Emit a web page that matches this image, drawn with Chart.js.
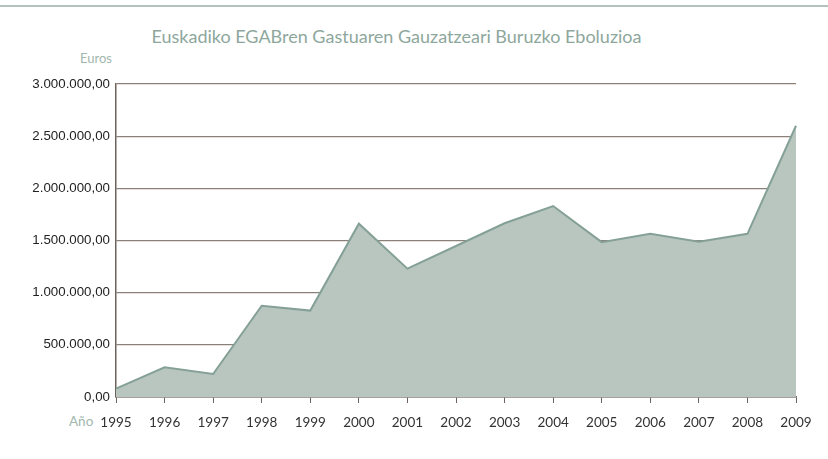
<!DOCTYPE html>
<html>
<head>
<meta charset="utf-8">
<script src="https://cdn.jsdelivr.net/npm/chart.js@4/dist/chart.umd.min.js"></script>
<style>
    html, body { margin: 0; padding: 0; background: #fff; }
    #wrap { position: relative; width: 828px; height: 459px; overflow: hidden; }
    #topRule { position: absolute; left: 0; top: 5px; width: 828px; height: 2px; background: #b3c3bb; }
    .lbl { position: absolute; font-family: Lato, "Open Sans", sans-serif; color: #8ea79c; white-space: nowrap; line-height: 1; }
    #title { left: 0; width: 793px; top: 27px; text-align: center; font-size: 18px; }
    #euros { left: 80px; top: 52px; font-size: 13px; color: #a2b7ad; }
    #anio { left: 69px; top: 415px; font-size: 13.5px; color: #a2b7ad; }
    canvas { position: absolute; left: 0; top: 0; }
</style>
</head>
<body>
<div id="wrap">
    <div id="topRule"></div>
    <div class="lbl" id="title">Euskadiko EGABren Gastuaren Gauzatzeari Buruzko Eboluzioa</div>
    <div class="lbl" id="euros">Euros</div>
    <div class="lbl" id="anio">Año</div>
    <canvas id="chart" width="828" height="459"></canvas>
</div>
<script>
const years = ['1995', '1996', '1997', '1998', '1999', '2000', '2001', '2002', '2003', '2004', '2005', '2006', '2007', '2008', '2009'];
const gasto = [80000, 285000, 220000, 875000, 828000, 1661000, 1230000, 1447000, 1665000, 1830000, 1484000, 1564000, 1487000, 1564000, 2600000];
const yTicks = [0, 500000, 1000000, 1500000, 2000000, 2500000, 3000000];

function fmtEuro(v) {
    const whole = Math.round(v).toString().replace(/\B(?=(\d{3})+(?!\d))/g, '.');
    return whole + ',00';
}

new Chart(document.getElementById('chart').getContext('2d'), {
    type: 'line',
    data: {
        labels: years,
        datasets: [{
            data: gasto,
            borderColor: '#84a097',
            backgroundColor: '#b8c6bf',
            borderWidth: 2,
            pointRadius: 0,
            tension: 0,
            fill: 'origin'
        }]
    },
    options: {
        responsive: false,
        animation: false,
        layout: { padding: { top: 84, right: 32, left: 0, bottom: 0 } },
        plugins: { legend: { display: false }, title: { display: false }, tooltip: { enabled: false } },
        scales: {
            x: {
                offset: false,
                grid: { drawOnChartArea: false, drawTicks: true, tickLength: 6, color: '#6e625c' },
                border: { color: '#6e625c', width: 1.5 },
                ticks: { color: '#333', font: { family: 'Lato', size: 13.5 }, padding: 12, maxRotation: 0, autoSkip: false },
                afterFit: scale => { scale.height = 62; }
            },
            y: {
                min: 0,
                max: 3000000,
                z: 1,
                afterBuildTicks: scale => { scale.ticks = yTicks.map(v => ({ value: v })); },
                grid: { color: '#8c807a', lineWidth: 1.3, drawTicks: false },
                border: { color: '#6e625c', width: 1.5 },
                ticks: { color: '#222', font: { family: 'Liberation Sans', size: 13.3 }, padding: 6, callback: v => fmtEuro(v) },
                afterFit: scale => { scale.width = 116; }
            }
        }
    }
});
</script>
</body>
</html>
